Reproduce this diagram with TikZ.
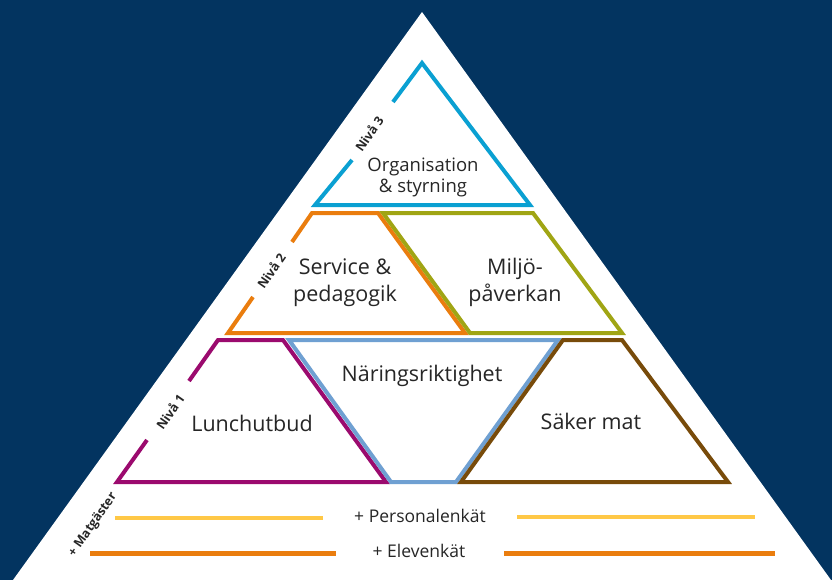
\documentclass[tikz,border=0pt]{standalone}
\usepackage{fontspec}
\setmainfont{Open Sans}
\definecolor{navy}{RGB}{3,52,96}
\definecolor{cyanl}{RGB}{10,160,210}
\definecolor{orng}{RGB}{234,125,14}
\definecolor{olive}{RGB}{160,165,20}
\definecolor{purp}{RGB}{155,10,110}
\definecolor{steel}{RGB}{111,160,210}
\definecolor{brwn}{RGB}{120,75,10}
\definecolor{yell}{RGB}{255,200,70}
\definecolor{txt}{RGB}{38,38,38}
\tikzset{
  shapeline/.style={line width=4pt, line join=miter},
  biglabel/.style={inner sep=0pt, align=center, text=txt, font=\fontsize{21.5}{27}\selectfont},
  midlabel/.style={inner sep=0pt, align=center, text=txt, font=\fontsize{18.5}{21}\selectfont},
  barlabel/.style={inner sep=0pt, text=txt, font=\fontsize{17.5}{20}\selectfont},
  levellabel/.style={inner sep=0pt, rotate=55, text=txt, font=\bfseries\fontsize{12.5}{14}\selectfont},
}
\begin{document}
\begin{tikzpicture}[x=1pt,y=-1pt]
  % background
  \fill[navy] (0,0) rectangle (832,580);
  \useasboundingbox (0,0) rectangle (832,580);
  % big white pyramid
  \fill[white] (422,12) -- (831,580) -- (13,580) -- cycle;

  % Level 3
  \draw[shapeline, cyanl] (393,102) -- (422,63) -- (530,205) -- (315,205) -- (352,160);
  % Level 2
  \draw[shapeline, orng] (292,242) -- (312,213) -- (378,213) -- (465,333) -- (228,333) -- (253,297);
  \draw[shapeline, olive] (383,213) -- (533,213) -- (622,333) -- (470,333) -- cycle;
  % Level 1
  \draw[shapeline, purp] (189,381) -- (218,340) -- (283,340) -- (386,482) -- (117,482) -- (147,440);
  \draw[shapeline, steel] (289,340) -- (558,340) -- (456,482) -- (391,482) -- cycle;
  \draw[shapeline, brwn] (563,340) -- (622,340) -- (728,482) -- (461,482) -- cycle;

  % bars
  \coordinate (y1a) at (115,518); \coordinate (y1b) at (323,518);
  \coordinate (y2a) at (517,517); \coordinate (y2b) at (755,517);
  \coordinate (o1a) at (90,553);  \coordinate (o1b) at (336,553);
  \coordinate (o2a) at (504,553); \coordinate (o2b) at (775,553);
  \draw[yell, line width=4pt] (y1a) -- (y1b);
  \draw[yell, line width=4pt] (y2a) -- (y2b);
  \draw[orng, line width=5pt] (o1a) -- (o1b);
  \draw[orng, line width=5pt] (o2a) -- (o2b);

  % labels
  \node[midlabel] (org) at (423,177) {Organisation\\\& styrning};
  \node[biglabel] (serv) at (345,283) {Service \&\\pedagogik};
  \node[biglabel] (milj) at (515,282) {Miljö-\\påverkan};
  \node[biglabel, anchor=base] (nar) at (422,381.5) {Näringsriktighet};
  \node[biglabel, anchor=base] (lunch) at (252,431.5) {Lunchutbud};
  \node[biglabel, anchor=base] (saker) at (591,429) {Säker mat};
  \node[barlabel, anchor=base] (pers) at (420,522) {+ Personalenkät};
  \node[barlabel, anchor=base] (elev) at (419,557) {+ Elevenkät};

  \node[levellabel] (n3) at (369,134) {Nivå 3};
  \node[levellabel] (n2) at (271,271) {Nivå 2};
  \node[levellabel] (n1) at (170,412) {Nivå 1};
  \node[levellabel] (mg) at (93,525) {+ Matgäster};
\end{tikzpicture}
\end{document}
